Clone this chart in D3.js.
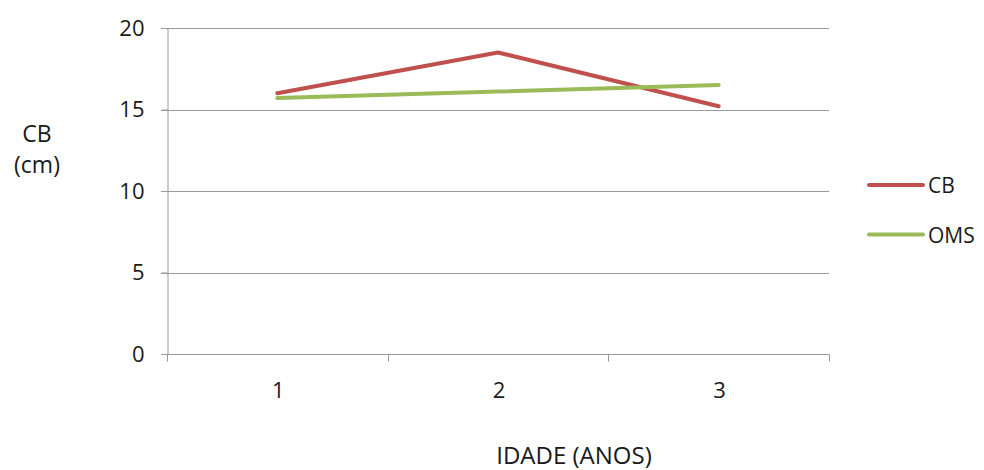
<!DOCTYPE html>
<html>
<head>
<meta charset="utf-8">
<script src="https://cdn.jsdelivr.net/npm/d3@7"></script>
<style>
  html, body { margin: 0; padding: 0; background: #fff; overflow: hidden; }
  svg text { font-family: "Open Sans", "Noto Sans", sans-serif; fill: #1a1a1a; }
</style>
</head>
<body>
<svg id="chart" width="984" height="470"></svg>
<script>
// Age categories (years)
const categories = ["1", "2", "3"];
// Measured values (cm)
const cbValues = [16.0, 18.5, 15.2];
// WHO reference values (cm)
const omsValues = [15.7, 16.1, 16.5];
const yTicks = [0, 5, 10, 15, 20];
const seriesNames = ["CB", "OMS"];
const seriesColors = ["#C0504D", "#9BBB59"];

const svg = d3.select("#chart");
const plotLeft = 167, plotRight = 829, plotTop = 28, plotBottom = 354;

const x = d3.scaleBand().domain(categories).range([plotLeft, plotRight]).paddingInner(0).paddingOuter(0);
const y = d3.scaleLinear().domain([0, 20]).range([plotBottom, plotTop]);

// horizontal gridlines
svg.append("g")
  .selectAll("line")
  .data(yTicks.filter(t => t > 0))
  .join("line")
  .attr("x1", plotLeft - 6).attr("x2", plotRight)
  .attr("y1", d => Math.round(y(d)) + 0.5).attr("y2", d => Math.round(y(d)) + 0.5)
  .attr("stroke", "#9a9a9a").attr("stroke-width", 1);

// y axis
const yAxis = svg.append("g")
  .attr("transform", `translate(${plotLeft + 0.5},0)`)
  .call(d3.axisLeft(y).tickValues(yTicks).tickSize(6).tickPadding(17));
yAxis.select(".domain").attr("stroke", "#9a9a9a");
yAxis.selectAll(".tick line").attr("stroke", "#9a9a9a");
yAxis.selectAll(".tick text").attr("font-size", 22).attr("fill", "#1a1a1a")
  .attr("font-family", "'Open Sans', sans-serif");

// x axis with ticks at band boundaries
const xAxis = svg.append("g")
  .attr("transform", `translate(0,${Math.round(plotBottom) + 0.5})`);
xAxis.append("line")
  .attr("x1", plotLeft).attr("x2", plotRight + 0.5)
  .attr("stroke", "#9a9a9a");
const bounds = categories.map(c => x(c)).concat([x(categories[categories.length - 1]) + x.bandwidth()]);
xAxis.selectAll("line.tk")
  .data(bounds)
  .join("line")
  .attr("class", "tk")
  .attr("x1", d => Math.round(d) + 0.5).attr("x2", d => Math.round(d) + 0.5)
  .attr("y1", 0).attr("y2", 7)
  .attr("stroke", "#9a9a9a");
xAxis.selectAll("text")
  .data(categories)
  .join("text")
  .attr("x", d => x(d) + x.bandwidth() / 2 + 1)
  .attr("y", 43)
  .attr("text-anchor", "middle")
  .attr("font-size", 22)
  .text(d => d);

// series lines
const line = d3.line()
  .x((d, i) => x(categories[i]) + x.bandwidth() / 2)
  .y(d => y(d));

[cbValues, omsValues].forEach((vals, i) => {
  svg.append("path")
    .datum(vals)
    .attr("d", line)
    .attr("fill", "none")
    .attr("stroke", seriesColors[i])
    .attr("stroke-width", 4)
    .attr("stroke-linecap", "round")
    .attr("stroke-linejoin", "round");
});

// legend
const legend = svg.append("g");
seriesNames.forEach((name, i) => {
  const ly = 185 + i * 49.5;
  legend.append("line")
    .attr("x1", 869).attr("x2", 923)
    .attr("y1", ly).attr("y2", ly)
    .attr("stroke", seriesColors[i]).attr("stroke-width", 4)
    .attr("stroke-linecap", "round");
  legend.append("text")
    .attr("x", 928).attr("y", ly + 8)
    .attr("font-size", 21)
    .text(name);
});

// axis titles
svg.append("text").attr("x", 37).attr("y", 142).attr("text-anchor", "middle")
  .attr("font-size", 23).text("CB");
svg.append("text").attr("x", 37).attr("y", 173).attr("text-anchor", "middle")
  .attr("font-size", 23).text("(cm)");
svg.append("text").attr("x", 574).attr("y", 464).attr("text-anchor", "middle")
  .attr("font-size", 24).text("IDADE (ANOS)");
</script>
</body>
</html>
